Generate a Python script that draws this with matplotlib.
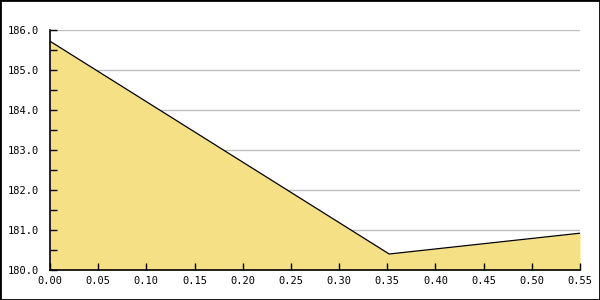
import matplotlib
matplotlib.use("Agg")
import matplotlib.pyplot as plt
from matplotlib.ticker import MultipleLocator, FormatStrFormatter
from matplotlib.patches import Rectangle

x_vals = [0.0, 0.352, 0.55]
y_vals = [185.72, 180.4, 180.92]
grid_levels = [181.0, 182.0, 183.0, 184.0, 185.0, 186.0]

fig = plt.figure(figsize=(6, 3), dpi=100)
ax = fig.add_axes([50/600, 30/300, 530/600, 240/300])

for g in grid_levels:
    ax.axhline(g, color="#C0C0C0", linewidth=1, zorder=1)
ax.fill_between(x_vals, 180.0, y_vals, color="#F5E085", linewidth=0, zorder=2)
ax.plot(x_vals, y_vals, color="black", linewidth=0.9, zorder=3)

ax.set_xlim(0, 0.55)
ax.set_ylim(180, 186)
ax.xaxis.set_major_locator(MultipleLocator(0.05))
ax.xaxis.set_major_formatter(FormatStrFormatter("%.2f"))
ax.yaxis.set_major_locator(MultipleLocator(1.0))
ax.yaxis.set_minor_locator(MultipleLocator(0.5))
ax.yaxis.set_major_formatter(FormatStrFormatter("%.1f"))
ax.set_axisbelow(False)

for s in ["top", "right"]:
    ax.spines[s].set_visible(False)
for s in ["left", "bottom"]:
    ax.spines[s].set_linewidth(1.2)
    ax.spines[s].set_zorder(4)

ax.tick_params(axis="both", which="major", direction="in", length=5, width=1, labelsize=7.5, colors="black")
ax.tick_params(axis="y", which="minor", direction="in", length=5, width=1)
ax.tick_params(axis="x", pad=4)
ax.tick_params(axis="y", pad=8)
for lab in ax.get_xticklabels() + ax.get_yticklabels():
    lab.set_family("DejaVu Sans Mono")

fig.patches.append(Rectangle((0, 0), 1, 1, transform=fig.transFigure, fill=False,
                             edgecolor="black", linewidth=2, zorder=10))

fig.savefig("out.png", dpi=100)
